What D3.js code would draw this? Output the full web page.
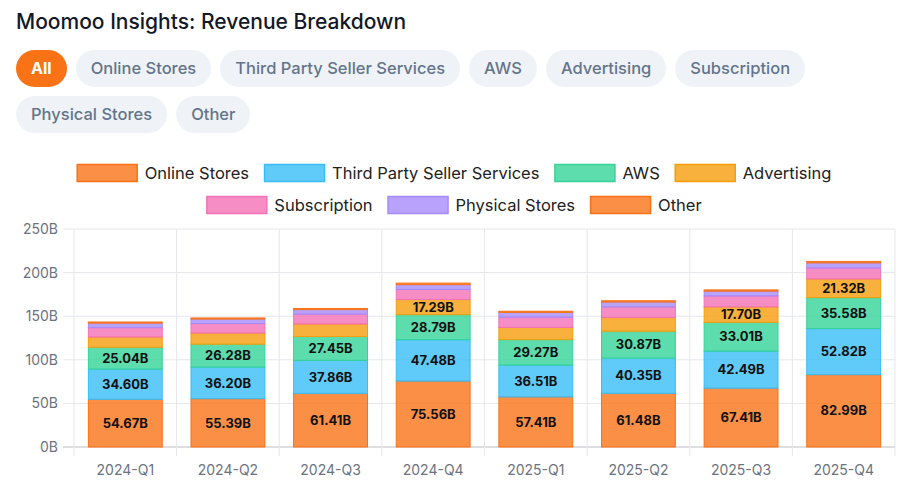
<!DOCTYPE html>
<html>
<head>
<meta charset="utf-8">
<script src="https://cdn.jsdelivr.net/npm/d3@7"></script>
<style>
  body { margin: 0; background: #fff; font-family: Inter, "Noto Sans", sans-serif; }
  #title { position: absolute; left: 16px; top: 9px; font-size: 21px; font-weight: 500; color: #111827; }
  #filters { position: absolute; left: 16px; top: 50px; width: 880px; display: flex; flex-wrap: wrap; gap: 9px; }
  .pill { height: 37px; line-height: 37px; padding: 0 15px; border-radius: 19px; background: #eff3f8;
          color: #64748b; font-size: 16.5px; font-weight: 500; white-space: nowrap; }
  .pill.active { background: #f97316; color: #fff; font-weight: 700; font-size: 16px; }
  svg { position: absolute; left: 0; top: 0; }
</style>
</head>
<body>
<div id="title">Moomoo Insights: Revenue Breakdown</div>
<div id="filters"></div>
<svg id="chart" width="908" height="489"></svg>
<script>
var quarters = ["2024-Q1", "2024-Q2", "2024-Q3", "2024-Q4", "2025-Q1", "2025-Q2", "2025-Q3", "2025-Q4"];
var segments = ["Online Stores", "Third Party Seller Services", "AWS", "Advertising", "Subscription", "Physical Stores", "Other"];
var colors = ["#f97316", "#38bdf8", "#34d399", "#f59e0b", "#f472b6", "#a78bfa", "#f97316"];

var onlineStores = [54.67, 55.39, 61.41, 75.56, 57.41, 61.48, 67.41, 82.99];
var thirdParty   = [34.60, 36.20, 37.86, 47.48, 36.51, 40.35, 42.49, 52.82];
var aws          = [25.04, 26.28, 27.45, 28.79, 29.27, 30.87, 33.01, 35.58];
var advertising  = [11.82, 12.77, 14.33, 17.29, 13.92, 15.69, 17.70, 21.32];
var subscription = [10.72, 10.87, 11.28, 11.51, 11.72, 12.21, 12.57, 12.60];
var physical     = [5.20, 5.21, 5.23, 5.58, 5.53, 5.60, 5.58, 5.80];
var other        = [1.31, 1.26, 1.33, 1.75, 1.30, 1.50, 1.41, 1.70];

var yTicks = [0, 50, 100, 150, 200, 250];
var series = [onlineStores, thirdParty, aws, advertising, subscription, physical, other];

// filter pills
d3.select("#filters").selectAll("div")
    .data(["All"].concat(segments))
    .enter()
    .append("div")
    .attr("class", (d, i) => i == 0 ? "pill active" : "pill")
    .text(d => d);

var svg = d3.select("#chart");

var table = quarters.map(function(q, i) {
    var row = {quarter: q};
    segments.forEach((s, j) => row[s] = series[j][i]);
    return row;
});
var stacked = d3.stack().keys(segments)(table);

var x = d3.scaleBand().domain(quarters).range([74, 895]);
var y = d3.scaleLinear().domain([0, 250]).range([447, 229]);
var barW = x.bandwidth() * 0.72;

// grid
var grid = svg.append("g");
grid.selectAll("line.h")
    .data(yTicks)
    .enter()
    .append("line")
    .attr("x1", 63).attr("x2", 895)
    .attr("y1", d => y(d)).attr("y2", d => y(d))
    .attr("stroke", d => d == 0 ? "#d4d4d8" : "#e5e7eb")
    .attr("stroke-width", d => d == 0 ? 1.5 : 1);
grid.selectAll("line.v")
    .data(quarters.concat(["end"]))
    .enter()
    .append("line")
    .attr("x1", (d, i) => 74 + i * x.bandwidth())
    .attr("x2", (d, i) => 74 + i * x.bandwidth())
    .attr("y1", 229).attr("y2", 456)
    .attr("stroke", "#e5e7eb");

// y labels
svg.append("g").selectAll("text")
    .data(yTicks)
    .enter()
    .append("text")
    .attr("x", 58)
    .attr("y", d => y(d))
    .attr("dy", "0.35em")
    .attr("text-anchor", "end")
    .attr("font-size", 14)
    .attr("fill", "#6b7280")
    .text(d => d + "B");

// x labels
svg.append("g").selectAll("text")
    .data(quarters)
    .enter()
    .append("text")
    .attr("x", d => x(d) + x.bandwidth() / 2)
    .attr("y", 475)
    .attr("text-anchor", "middle")
    .attr("font-size", 14)
    .attr("fill", "#6b7280")
    .text(d => d);

// bars
var layers = svg.append("g").selectAll("g")
    .data(stacked)
    .enter()
    .append("g")
    .attr("fill", (d, i) => colors[i])
    .attr("fill-opacity", 0.8)
    .attr("stroke", (d, i) => colors[i])
    .attr("stroke-width", 1);

layers.selectAll("rect")
    .data(d => d)
    .enter()
    .append("rect")
    .attr("x", d => x(d.data.quarter) + (x.bandwidth() - barW) / 2)
    .attr("width", barW)
    .attr("y", d => y(d[1]))
    .attr("height", d => y(d[0]) - y(d[1]));

// value labels
var labels = svg.append("g");
stacked.forEach(function(layer) {
    labels.selectAll(null)
        .data(layer.filter(d => d[1] - d[0] >= 16))
        .enter()
        .append("text")
        .attr("x", d => x(d.data.quarter) + x.bandwidth() / 2)
        .attr("y", d => (y(d[0]) + y(d[1])) / 2)
        .attr("dy", "0.36em")
        .attr("text-anchor", "middle")
        .attr("font-size", 13)
        .attr("font-weight", 700)
        .attr("fill", "#111")
        .text(d => (d[1] - d[0]).toFixed(2) + "B");
});

// legend
var boxW = 60, boxH = 17, gap = 15, maxW = 880;
var legend = svg.append("g");
var items = segments.map(function(s, i) {
    var t = legend.append("text")
        .attr("font-size", 16.5)
        .attr("fill", "#222")
        .attr("dy", "0.35em")
        .text(s);
    return {name: s, color: colors[i], text: t, w: boxW + 8 + t.node().getComputedTextLength()};
});
var rows = [[]], rowW = [0];
items.forEach(function(it) {
    var r = rows.length - 1;
    var add = rows[r].length ? gap + it.w : it.w;
    if (rowW[r] + add > maxW) { rows.push([it]); rowW.push(it.w); }
    else { rows[r].push(it); rowW[r] += add; }
});
rows.forEach(function(row, r) {
    var cx = 454 - rowW[r] / 2;
    var cy = 173 + r * 32;
    row.forEach(function(it) {
        legend.append("rect")
            .attr("x", cx + 0.5).attr("y", cy - boxH / 2)
            .attr("width", boxW).attr("height", boxH)
            .attr("fill", it.color).attr("fill-opacity", 0.8)
            .attr("stroke", it.color).attr("stroke-width", 1.5);
        it.text.attr("x", cx + boxW + 8).attr("y", cy);
        cx += it.w + gap;
    });
});
</script>
</body>
</html>
